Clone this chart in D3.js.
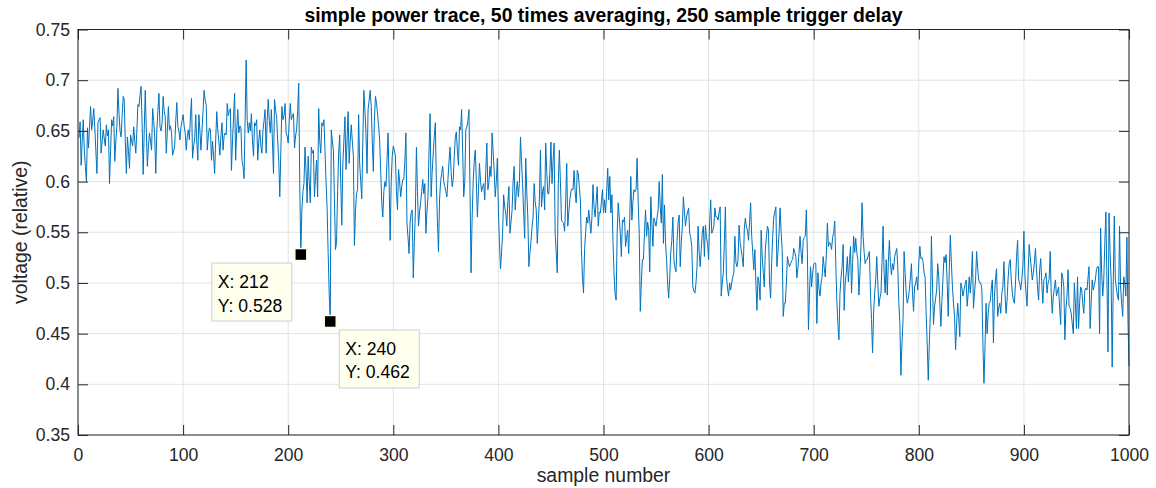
<!DOCTYPE html>
<html>
<head>
<meta charset="utf-8">
<script src="https://cdn.jsdelivr.net/npm/d3@7"></script>
<style>
  html, body { margin: 0; padding: 0; background: #fff; }
  svg { display: block; font-family: "Liberation Sans", Arial, sans-serif; }
</style>
</head>
<body>
<svg id="chart" width="1156" height="488"></svg>
<script>
const title = "simple power trace, 50 times averaging, 250 sample trigger delay";
const xLabel = "sample number";
const yLabel = "voltage (relative)";

const xTicks = [0, 100, 200, 300, 400, 500, 600, 700, 800, 900, 1000];
const yTicks = [0.35, 0.4, 0.45, 0.5, 0.55, 0.6, 0.65, 0.7, 0.75];
const yTickLabels = ["0.35", "0.4", "0.45", "0.5", "0.55", "0.6", "0.65", "0.7", "0.75"];

// data tips (sample, voltage)
const tipX = [212, 240];
const tipY = [0.528, 0.462];

// voltage for samples 1..1000
const voltage = [
  .643,.659,.616,.640,.661,.631,.615,.600,.653,.633,.655,.674,.651,.660,.672,.653,.630,.608,.658,.661,.663,.628,.640,.651,.642,
  .635,.656,.645,.651,.598,.630,.661,.655,.664,.620,.640,.654,.692,.667,.650,.644,.665,.684,.681,.640,.608,.644,.630,.613,.646,
  .640,.635,.654,.640,.628,.650,.676,.674,.685,.694,.658,.607,.650,.690,.650,.615,.635,.648,.640,.631,.672,.660,.644,.608,.651,
  .670,.687,.654,.650,.658,.684,.670,.664,.628,.650,.674,.651,.655,.648,.626,.630,.635,.660,.678,.654,.650,.641,.654,.660,.666,
  .655,.648,.631,.645,.651,.641,.665,.682,.623,.635,.641,.666,.640,.621,.666,.650,.631,.651,.670,.690,.680,.676,.631,.645,.653,
  .651,.621,.640,.625,.608,.640,.669,.651,.640,.626,.645,.658,.631,.645,.648,.646,.677,.665,.670,.672,.611,.640,.664,.687,.621,
  .650,.671,.648,.655,.654,.621,.615,.603,.660,.720,.660,.648,.658,.650,.667,.640,.625,.658,.655,.661,.621,.640,.651,.635,.628,
  .651,.660,.671,.628,.660,.681,.660,.648,.671,.640,.608,.681,.670,.664,.640,.621,.585,.630,.674,.661,.665,.677,.648,.645,.638,
  .660,.677,.661,.665,.667,.633,.645,.651,.670,.697,.598,.528,.572,.590,.598,.634,.610,.579,.625,.600,.579,.634,.628,.631,.585,
  .605,.621,.585,.672,.640,.628,.658,.655,.661,.631,.600,.575,.530,.490,.462,.651,.640,.631,.582,.533,.540,.590,.628,.646,.600,
  .557,.618,.640,.664,.612,.640,.669,.618,.640,.656,.640,.625,.537,.570,.588,.592,.666,.618,.600,.583,.640,.690,.670,.648,.608,
  .671,.680,.690,.674,.640,.610,.660,.684,.678,.667,.655,.641,.610,.580,.565,.590,.600,.595,.620,.648,.600,.542,.600,.625,.635,
  .631,.625,.590,.572,.612,.600,.585,.595,.602,.602,.620,.648,.559,.545,.529,.560,.569,.572,.505,.540,.569,.634,.590,.556,.570,
  .579,.590,.602,.588,.598,.549,.570,.585,.630,.667,.585,.610,.628,.645,.658,.595,.560,.531,.582,.600,.608,.615,.600,.595,.590,
  .585,.602,.620,.634,.610,.595,.602,.625,.644,.649,.630,.616,.654,.651,.671,.630,.585,.600,.651,.654,.660,.671,.590,.510,.565,
  .600,.620,.631,.600,.565,.590,.618,.600,.590,.595,.598,.582,.610,.638,.592,.600,.615,.605,.648,.630,.610,.585,.600,.623,.572,
  .540,.514,.530,.549,.587,.575,.569,.556,.580,.595,.549,.560,.572,.600,.615,.572,.590,.600,.585,.598,.644,.620,.598,.570,.544,
  .623,.590,.565,.516,.530,.541,.555,.565,.598,.580,.572,.539,.560,.582,.631,.575,.590,.595,.572,.638,.610,.588,.588,.610,.639,
  .598,.620,.638,.549,.530,.510,.598,.631,.600,.562,.560,.559,.551,.580,.618,.556,.570,.582,.590,.593,.592,.611,.590,.579,.611,
  .608,.595,.582,.533,.505,.490,.533,.550,.565,.559,.572,.560,.549,.565,.597,.575,.565,.580,.595,.556,.570,.569,.580,.592,.569,
  .582,.569,.590,.613,.582,.605,.569,.587,.542,.510,.490,.483,.549,.579,.565,.549,.526,.562,.560,.565,.536,.545,.552,.529,.565,
  .605,.562,.580,.592,.590,.592,.623,.580,.549,.472,.500,.523,.523,.550,.572,.546,.560,.552,.511,.585,.560,.536,.564,.560,.556,
  .565,.572,.600,.575,.559,.607,.539,.577,.540,.523,.500,.485,.505,.530,.542,.565,.523,.515,.511,.542,.560,.567,.516,.540,.556,
  .585,.570,.556,.565,.570,.574,.549,.545,.536,.496,.492,.490,.500,.516,.556,.530,.516,.533,.550,.556,.526,.557,.545,.539,.523,
  .560,.582,.549,.552,.556,.574,.565,.565,.562,.570,.575,.487,.500,.510,.540,.575,.506,.495,.487,.500,.493,.500,.506,.510,.546,
  .520,.516,.523,.557,.540,.533,.525,.516,.554,.564,.555,.552,.542,.560,.579,.546,.530,.513,.533,.500,.473,.506,.500,.483,.552,
  .526,.510,.496,.533,.545,.556,.552,.500,.485,.520,.546,.565,.570,.575,.516,.530,.549,.574,.550,.533,.467,.480,.480,.500,.526,
  .520,.516,.519,.522,.523,.534,.530,.526,.505,.515,.529,.546,.530,.519,.542,.545,.546,.572,.529,.454,.490,.516,.496,.510,.518,
  .520,.519,.460,.510,.495,.487,.500,.506,.526,.515,.506,.528,.559,.536,.540,.539,.533,.545,.549,.561,.520,.483,.460,.444,.490,
  .505,.516,.538,.473,.500,.510,.526,.501,.520,.536,.490,.520,.546,.530,.544,.530,.523,.488,.510,.536,.579,.546,.530,.519,.523,
  .523,.528,.531,.490,.464,.431,.470,.490,.503,.526,.500,.477,.485,.490,.520,.556,.510,.490,.523,.488,.520,.542,.520,.508,.519,
  .513,.526,.530,.534,.516,.480,.460,.409,.440,.464,.531,.510,.490,.480,.485,.493,.505,.519,.490,.472,.496,.500,.506,.493,.520,
  .536,.524,.525,.521,.510,.506,.470,.440,.404,.440,.470,.546,.500,.459,.477,.485,.493,.519,.506,.480,.457,.483,.505,.526,.520,
  .528,.500,.467,.513,.547,.520,.496,.480,.467,.434,.460,.480,.465,.447,.500,.495,.487,.493,.498,.503,.477,.490,.506,.490,.505,
  .531,.475,.490,.503,.531,.515,.503,.500,.500,.493,.440,.401,.437,.480,.450,.470,.480,.482,.495,.503,.441,.487,.505,.514,.467,
  .475,.480,.470,.490,.496,.521,.490,.470,.483,.505,.519,.523,.503,.490,.483,.480,.500,.525,.542,.503,.500,.493,.503,.516,.551,
  .506,.490,.477,.510,.538,.526,.515,.503,.510,.520,.534,.513,.495,.483,.513,.524,.500,.480,.503,.505,.510,.490,.500,.503,.531,
  .490,.470,.487,.495,.503,.487,.492,.496,.475,.459,.510,.505,.496,.444,.475,.487,.513,.477,.475,.470,.460,.450,.500,.480,.455,
  .506,.455,.480,.496,.493,.480,.470,.493,.495,.493,.505,.516,.455,.480,.503,.493,.498,.503,.513,.516,.516,.450,.554,.510,.487,
  .503,.540,.570,.503,.432,.569,.530,.503,.417,.500,.566,.503,.495,.487,.483,.556,.496,.480,.467,.506,.500,.487,.545,.464,.418
];

(() => {
  const axisColor = "#262626";
  const gridColor = "#e3e3e3";
  const lineColor = "#0072bd";
  const tickFont = 17.6;
  const labelFont = 19.4;

  const svg = d3.select("#chart");
  const pLeft = 78, pRight = 1129, pTop = 29.5, pBottom = 435;

  const x = d3.scaleLinear().domain([0, 1000]).range([pLeft, pRight]);
  const y = d3.scaleLinear().domain([0.35, 0.75]).range([pBottom, pTop]);

  // grid
  svg.append("g")
    .selectAll("line")
    .data(xTicks)
    .join("line")
    .attr("x1", (d) => x(d))
    .attr("x2", (d) => x(d))
    .attr("y1", pTop)
    .attr("y2", pBottom)
    .attr("stroke", gridColor)
    .attr("stroke-width", 1);

  svg.append("g")
    .selectAll("line")
    .data(yTicks)
    .join("line")
    .attr("x1", pLeft)
    .attr("x2", pRight)
    .attr("y1", (d) => y(d))
    .attr("y2", (d) => y(d))
    .attr("stroke", gridColor)
    .attr("stroke-width", 1);

  // trace
  const line = d3.line()
    .x((d, i) => x(i + 1))
    .y((d) => y(d));

  svg.append("path")
    .datum(voltage)
    .attr("fill", "none")
    .attr("stroke", lineColor)
    .attr("stroke-width", 1)
    .attr("stroke-linejoin", "round")
    .attr("d", line);

  // axes (ticks point inward, box on)
  function styleAxis(g) {
    g.select(".domain").remove();
    g.selectAll(".tick line").attr("stroke", axisColor).attr("stroke-width", 1);
    g.selectAll(".tick text")
      .attr("fill", axisColor)
      .attr("font-size", tickFont)
      .attr("font-family", "'Liberation Sans', Arial, sans-serif");
  }

  svg.append("g")
    .attr("transform", `translate(0,${pBottom})`)
    .call(d3.axisBottom(x).tickValues(xTicks).tickSize(-10).tickPadding(14).tickFormat(d3.format("d")))
    .call(styleAxis);

  svg.append("g")
    .attr("transform", `translate(0,${pTop})`)
    .call(d3.axisTop(x).tickValues(xTicks).tickSize(-10).tickFormat(""))
    .call(styleAxis);

  svg.append("g")
    .attr("transform", `translate(${pLeft},0)`)
    .call(d3.axisLeft(y).tickValues(yTicks).tickSize(-10).tickPadding(8).tickFormat((d, i) => yTickLabels[i]))
    .call(styleAxis);

  svg.append("g")
    .attr("transform", `translate(${pRight},0)`)
    .call(d3.axisRight(y).tickValues(yTicks).tickSize(-10).tickFormat(""))
    .call(styleAxis);

  svg.append("rect")
    .attr("x", pLeft)
    .attr("y", pTop)
    .attr("width", pRight - pLeft)
    .attr("height", pBottom - pTop)
    .attr("fill", "none")
    .attr("stroke", axisColor)
    .attr("stroke-width", 1);

  // titles
  svg.append("text")
    .attr("x", (pLeft + pRight) / 2)
    .attr("y", 22)
    .attr("text-anchor", "middle")
    .attr("font-size", labelFont)
    .attr("font-weight", 700)
    .attr("fill", "#000")
    .text(title);

  svg.append("text")
    .attr("x", (pLeft + pRight) / 2)
    .attr("y", 482)
    .attr("text-anchor", "middle")
    .attr("font-size", labelFont)
    .attr("fill", axisColor)
    .text(xLabel);

  svg.append("text")
    .attr("transform", `translate(27,${(pTop + pBottom) / 2}) rotate(-90)`)
    .attr("text-anchor", "middle")
    .attr("font-size", labelFont)
    .attr("fill", axisColor)
    .text(yLabel);

  // data tips
  tipX.forEach((tx, i) => {
    const px = x(tx);
    const py = y(tipY[i]);
    const bw = 80, bh = 58;
    const bx = i === 0 ? px - 9 - bw : px + 9;
    const by = py + 8.5;
    const g = svg.append("g");
    g.append("rect")
      .attr("x", bx)
      .attr("y", by)
      .attr("width", bw)
      .attr("height", bh)
      .attr("fill", "#ffffee")
      .attr("stroke", "#cfcfcf")
      .attr("stroke-width", 1);
    g.append("text")
      .attr("x", bx + 6)
      .attr("y", by + 25)
      .attr("font-size", tickFont)
      .attr("fill", "#000")
      .text(`X: ${tx}`);
    g.append("text")
      .attr("x", bx + 6)
      .attr("y", by + 48.5)
      .attr("font-size", tickFont)
      .attr("fill", "#000")
      .text(`Y: ${d3.format(".3f")(tipY[i])}`);
    g.append("rect")
      .attr("x", px - 6)
      .attr("y", py - 6)
      .attr("width", 12)
      .attr("height", 12)
      .attr("fill", "#000")
      .attr("stroke", "#ffffe0")
      .attr("stroke-width", 1.5);
  });
})();
</script>
</body>
</html>
